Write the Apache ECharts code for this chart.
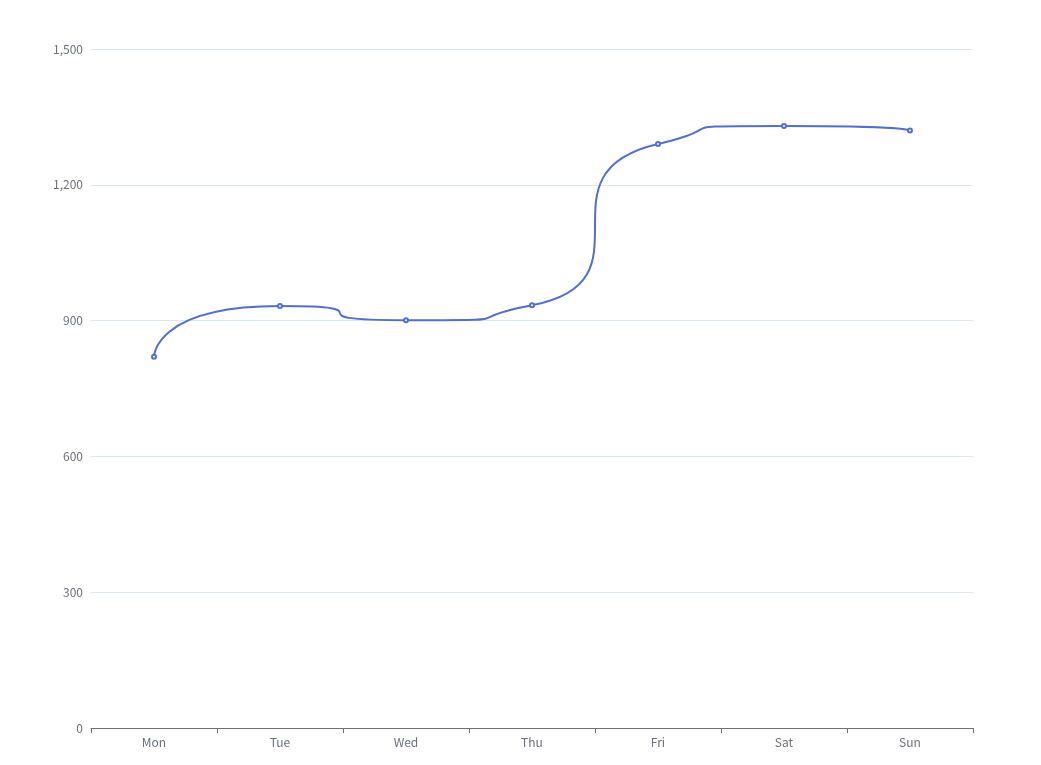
<!DOCTYPE html>
<html><head><meta charset="utf-8">
<script src="https://cdn.jsdelivr.net/npm/echarts@6/dist/echarts.min.js"></script>
<style>html,body{margin:0;padding:0;background:#fff}#c{width:1041px;height:765px}</style>
</head><body><div id="c"></div>
<script>
const categories = ['Mon','Tue','Wed','Thu','Fri','Sat','Sun'];
const values = [820, 932, 901, 934, 1290, 1330, 1320];
const chart = echarts.init(document.getElementById('c'));
const font = "'Noto Sans CJK SC', 'Noto Sans', sans-serif";
chart.setOption({
  animation: false,
  textStyle: {fontFamily: font},
  grid: {left: 91, right: 68, top: 49, bottom: 37, containLabel: false},
  xAxis: {type: 'category', data: categories,
    axisLine: {lineStyle: {color: '#6E7079'}},
    axisTick: {show: true, alignWithLabel: false, lineStyle: {color: '#6E7079'}},
    axisLabel: {color: '#6E7079', fontSize: 12, margin: 8, fontFamily: font}},
  yAxis: {type: 'value', min: 0, max: 1500, interval: 300,
    axisLabel: {color: '#6E7079', fontSize: 12, fontFamily: font},
    splitLine: {lineStyle: {color: '#E0E6F1'}}},
  series: [{type: 'line', data: values, smooth: 1,
    color: '#5470c6', symbol: 'emptyCircle', symbolSize: 4,
    lineStyle: {width: 2, color: '#5470c6'},
    itemStyle: {color: '#5470c6'}}]
});
</script></body></html>
